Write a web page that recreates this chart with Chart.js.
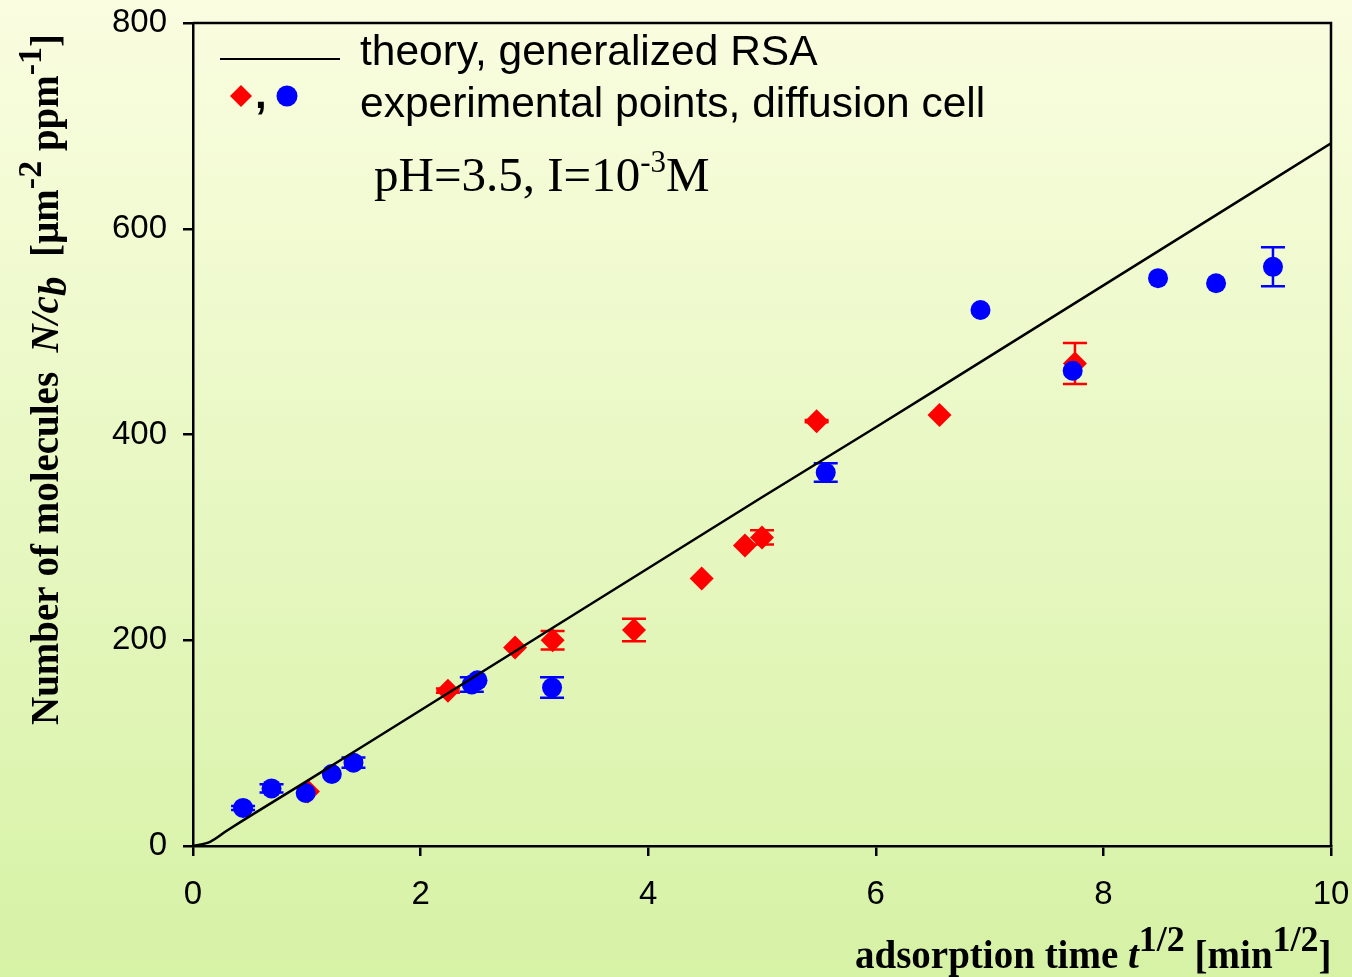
<!DOCTYPE html>
<html>
<head>
<meta charset="utf-8">
<script src="https://cdn.jsdelivr.net/npm/chart.js@4/dist/chart.umd.min.js"></script>
<style>
  html, body { margin: 0; padding: 0; background: #e8f6c0; }
  #wrap { position: relative; width: 1352px; height: 977px; }
  canvas { display: block; }
</style>
</head>
<body>
<div id="wrap"><canvas id="c" width="1352" height="977"></canvas></div>
<script>
// Square-root adsorption time [min^1/2] and surface concentration N/c_b [µm^-2 ppm^-1]

// Theory, generalized RSA
const theoryT = [0, 0.15, 0.3, 0.5, 1, 2, 3, 4, 5, 6, 7, 8, 9, 10];
const theoryN = [0, 4, 15, 29, 63, 132, 201, 270, 339, 407, 476, 545, 614, 683];

// Experimental points (red diamonds)
const redT   = [1.01, 2.24, 2.83, 3.16, 3.875, 4.47, 4.85, 5.0, 5.48, 6.56, 7.75];
const redN   = [53, 151, 193, 200, 210, 260, 292, 300, 413, 419, 469];
const redErr = [0, 2, 0, 9, 11, 0, 0, 7, 1, 0, 20];

// Experimental points (blue circles)
const blueT   = [0.44, 0.69, 0.99, 1.22, 1.41, 2.45, 2.5, 3.155, 5.56, 6.92, 7.73, 8.48, 8.99, 9.49];
const blueN   = [37, 56, 51.5, 70, 81, 157, 161, 154, 363, 521, 462, 552, 547, 563];
const blueErr = [2, 4, 0, 0, 5, 7, 0, 10, 9, 0, 0, 0, 0, 19];

// Axis ticks
const xTicks = [0, 2, 4, 6, 8, 10];
const yTicks = [0, 200, 400, 600, 800];

const toPoints = (xs, ys) => xs.map((x, i) => ({ x: x, y: ys[i] }));

// Page background: vertical pale-yellow to light-green wash
const backgroundPlugin = {
  id: 'background',
  beforeDraw(chart) {
    const ctx = chart.ctx;
    const g = ctx.createLinearGradient(0, 0, 0, chart.height);
    g.addColorStop(0, '#fafde0');
    g.addColorStop(1, '#d6f2a5');
    ctx.save();
    ctx.fillStyle = g;
    ctx.fillRect(0, 0, chart.width, chart.height);
    ctx.restore();
  }
};

// Closed frame around the plotting area
const framePlugin = {
  id: 'frame',
  beforeDatasetsDraw(chart) {
    const a = chart.chartArea, ctx = chart.ctx;
    ctx.save();
    ctx.strokeStyle = '#000';
    ctx.lineWidth = 2.5;
    ctx.beginPath();
    ctx.moveTo(a.left, a.top);
    ctx.lineTo(a.right, a.top);
    ctx.lineTo(a.right, a.bottom);
    ctx.stroke();
    ctx.restore();
  }
};

// Vertical error bars with caps, drawn right after their own dataset
const errorBarPlugin = {
  id: 'errorBars',
  afterDatasetDraw(chart, args) {
    const ds = chart.data.datasets[args.index];
    if (!ds.errors) return;
    const ctx = chart.ctx, xs = chart.scales.x, ys = chart.scales.y;
    ctx.save();
    ctx.strokeStyle = ds.backgroundColor;
    ctx.lineWidth = 2.5;
    ds.data.forEach((p, i) => {
      const e = ds.errors[i];
      if (!e) return;
      const px = xs.getPixelForValue(p.x);
      const top = ys.getPixelForValue(p.y + e);
      const bot = ys.getPixelForValue(p.y - e);
      const cap = 12;
      ctx.beginPath();
      ctx.moveTo(px, top); ctx.lineTo(px, bot);
      ctx.moveTo(px - cap, top); ctx.lineTo(px + cap, top);
      ctx.moveTo(px - cap, bot); ctx.lineTo(px + cap, bot);
      ctx.stroke();
    });
    ctx.restore();
  }
};

// Text run made of differently styled pieces (superscripts, italics)
function drawRich(ctx, parts, x, y, rot) {
  ctx.save();
  ctx.translate(x, y);
  if (rot) ctx.rotate(rot);
  ctx.textBaseline = 'alphabetic';
  ctx.textAlign = 'left';
  ctx.fillStyle = '#000';
  let cx = 0;
  for (const p of parts) {
    ctx.font = p.font;
    ctx.fillText(p.text, cx, -(p.rise || 0));
    cx += ctx.measureText(p.text).width;
  }
  ctx.restore();
}

const SERIF = '"Liberation Serif", "Times New Roman", serif';
const SANS = '"Liberation Sans", Arial, sans-serif';

const annotationPlugin = {
  id: 'annotations',
  afterDraw(chart) {
    const ctx = chart.ctx;

    // Legend block
    ctx.save();
    ctx.strokeStyle = '#000';
    ctx.lineWidth = 2;
    ctx.beginPath();
    ctx.moveTo(220, 59); ctx.lineTo(340, 59);
    ctx.stroke();

    ctx.fillStyle = '#ff0000';
    ctx.beginPath();
    ctx.moveTo(241, 85); ctx.lineTo(252, 96); ctx.lineTo(241, 107); ctx.lineTo(230, 96);
    ctx.closePath();
    ctx.fill();

    ctx.fillStyle = '#0000ff';
    ctx.beginPath();
    ctx.arc(287, 96, 10.5, 0, Math.PI * 2);
    ctx.fill();

    ctx.fillStyle = '#000';
    ctx.font = 'bold 42px ' + SANS;
    ctx.textBaseline = 'alphabetic';
    ctx.fillText(',', 255, 108);

    ctx.font = '42.5px ' + SANS;
    ctx.fillText('theory, generalized RSA', 360, 65);
    ctx.fillText('experimental points, diffusion cell', 360, 117);
    ctx.restore();

    // Conditions
    drawRich(ctx, [
      { text: 'pH=3.5, I=10', font: '49px ' + SERIF },
      { text: '-3', font: '31px ' + SERIF, rise: 19 },
      { text: 'M', font: '49px ' + SERIF }
    ], 374, 191);

    // X axis title
    drawRich(ctx, [
      { text: 'adsorption time ', font: 'bold 39px ' + SERIF },
      { text: 't', font: 'italic bold 39px ' + SERIF },
      { text: '1/2', font: 'bold 36px ' + SERIF, rise: 17 },
      { text: ' [min', font: 'bold 39px ' + SERIF },
      { text: '1/2', font: 'bold 36px ' + SERIF, rise: 17 },
      { text: ']', font: 'bold 39px ' + SERIF }
    ], 855, 968);

    // Y axis title
    drawRich(ctx, [
      { text: 'Number of molecules  ', font: 'bold 39px ' + SERIF },
      { text: 'N/c', font: 'italic bold 39px ' + SERIF },
      { text: 'b', font: 'italic bold 39px ' + SERIF, rise: -8 },
      { text: '  [\u00b5m', font: 'bold 39px ' + SERIF },
      { text: '-2', font: 'bold 34px ' + SERIF, rise: 17 },
      { text: ' ppm', font: 'bold 39px ' + SERIF },
      { text: '-1', font: 'bold 34px ' + SERIF, rise: 17 },
      { text: ']', font: 'bold 39px ' + SERIF }
    ], 58, 725, -Math.PI / 2);
  }
};

const axisCommon = {
  type: 'linear',
  grid: {
    drawOnChartArea: false,
    drawTicks: true,
    tickLength: 10,
    color: '#000',
    lineWidth: 2.5
  },
  border: { display: true, color: '#000', width: 2.5 },
  title: { display: false }
};

new Chart(document.getElementById('c'), {
  type: 'scatter',
  data: {
    datasets: [
      {
        label: 'theory, generalized RSA',
        type: 'line',
        data: toPoints(theoryT, theoryN),
        borderColor: '#000',
        borderWidth: 2.5,
        pointRadius: 0,
        fill: false,
        tension: 0.3
      },
      {
        label: 'experimental points (circles)',
        data: toPoints(blueT, blueN),
        errors: blueErr,
        backgroundColor: '#0000ff',
        borderColor: '#0000ff',
        borderWidth: 0,
        pointStyle: 'circle',
        pointRadius: 10
      },
      {
        label: 'experimental points (diamonds)',
        data: toPoints(redT, redN),
        errors: redErr,
        backgroundColor: '#ff0000',
        borderColor: '#ff0000',
        borderWidth: 0,
        pointStyle: 'rectRot',
        pointRadius: 12
      }
    ]
  },
  options: {
    responsive: false,
    animation: false,
    devicePixelRatio: 1,
    layout: { autoPadding: false, padding: { top: 23, right: 21, left: 0, bottom: 0 } },
    plugins: {
      legend: { display: false },
      tooltip: { enabled: false }
    },
    scales: {
      x: Object.assign({}, axisCommon, {
        min: 0, max: 10,
        afterBuildTicks: s => { s.ticks = xTicks.map(v => ({ value: v })); },
        afterFit: s => { s.height = 131; s.paddingLeft = 0; s.paddingRight = 0; },
        ticks: { color: '#000', font: { family: SANS, size: 33 }, padding: 19, maxRotation: 0 }
      }),
      y: Object.assign({}, axisCommon, {
        min: 0, max: 800,
        afterBuildTicks: s => { s.ticks = yTicks.map(v => ({ value: v })); },
        afterFit: s => { s.width = 193; s.paddingTop = 0; s.paddingBottom = 0; },
        ticks: { color: '#000', font: { family: SANS, size: 33 }, padding: 16 }
      })
    }
  },
  plugins: [backgroundPlugin, framePlugin, errorBarPlugin, annotationPlugin]
});
</script>
</body>
</html>
